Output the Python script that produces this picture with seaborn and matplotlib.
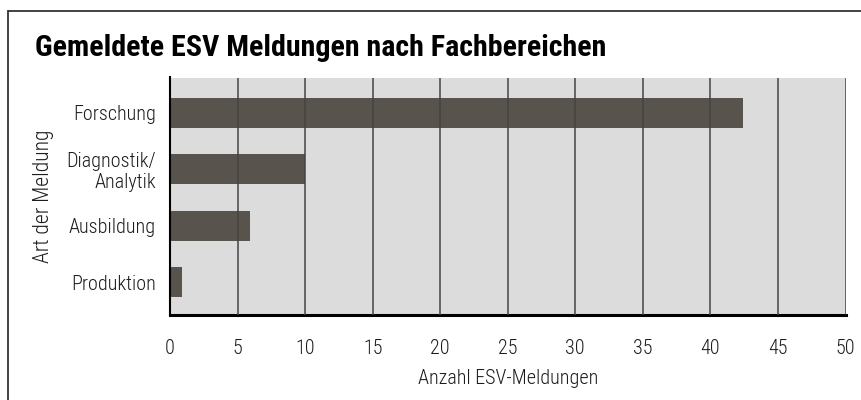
import matplotlib
matplotlib.use("Agg")
import matplotlib.pyplot as plt
import seaborn as sns
import pandas as pd
from matplotlib.lines import Line2D

categories = ["Forschung", "Diagnostik/\nAnalytik", "Ausbildung", "Produktion"]
values = [42.4, 10.0, 5.9, 0.9]
xticks = [0, 5, 10, 15, 20, 25, 30, 35, 40, 45, 50]

sns.set_theme(style="white")
plt.rcParams['font.family'] = ['Roboto Condensed', 'DejaVu Sans']

df = pd.DataFrame({"Art": categories, "Anzahl": values})

FS = 14.5
TXT = "#1c1c1c"

fig = plt.figure(figsize=(8.61, 4.0), dpi=100)
ax = fig.add_axes([170/861, 1-315/400, (845.5-170)/861, (315-77.5)/400])
ax.set_facecolor("#dcdcdc")

sns.barplot(data=df, y="Art", x="Anzahl", orient="h", color="#59534e",
            width=0.53, saturation=1, ax=ax, zorder=2, edgecolor="none", linewidth=0)

ax.set_xlim(0, 50)
ax.set_ylim(3.575, -0.62)
ax.set_xticks(xticks)
ax.set_xticklabels([str(t) for t in xticks], fontsize=FS, color=TXT, fontweight="light")
for lab in ax.get_yticklabels():
    lab.set_fontsize(FS)
    lab.set_fontweight("light")
    lab.set_color(TXT)
    lab.set_linespacing(1.1)
for t in xticks[1:]:
    ax.axvline(t, color="#444444", lw=1.1, zorder=3)

ax.tick_params(axis="x", direction="out", length=10, width=1, color="#555555", pad=7)
ax.tick_params(axis="y", length=0, pad=10)

for s in ["top", "right"]:
    ax.spines[s].set_visible(False)
ax.spines["bottom"].set_linewidth(2.2)
ax.spines["bottom"].set_color("black")
ax.spines["left"].set_linewidth(1.5)
ax.spines["left"].set_color("black")

ax.set_xlabel("Anzahl ESV-Meldungen", fontsize=FS, color=TXT, fontweight="light", labelpad=8)
ax.set_ylabel("Art der Meldung", fontsize=15.5, color=TXT, fontweight="light")
ax.yaxis.set_label_coords(-0.172, 0.5)

fig.text(35/861, 1-56/400, "Gemeldete ESV Meldungen nach Fachbereichen",
         fontsize=21.6, fontweight="bold", color="black", va="baseline", ha="left")

fig.add_artist(Line2D([8/861, 8/861], [0, 1-11/400], transform=fig.transFigure,
                      color="#333333", lw=1.3))
fig.add_artist(Line2D([8/861, 1], [1-11/400, 1-11/400], transform=fig.transFigure,
                      color="#333333", lw=1.3))

fig.savefig("out.png", dpi=100)
